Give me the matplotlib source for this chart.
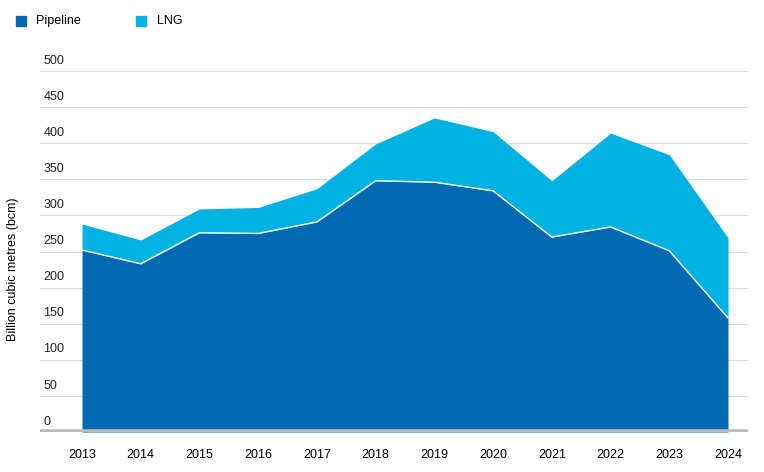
import numpy as np
import matplotlib.pyplot as plt

years = [2013, 2014, 2015, 2016, 2017, 2018, 2019, 2020, 2021, 2022, 2023, 2024]
pipeline = [252, 233, 276, 275, 291, 348, 346, 334, 270, 284, 251, 158]
total = [288, 266, 309, 311, 337, 399, 435, 416, 348, 414, 384, 269]
lng = [t - p for t, p in zip(total, pipeline)]
yticks = [0, 50, 100, 150, 200, 250, 300, 350, 400, 450, 500]

c_pipe = "#0069b4"
c_lng = "#00b1e3"

plt.rcParams["font.family"] = ["Liberation Sans", "DejaVu Sans"]
fig = plt.figure(figsize=(7.64, 4.72), dpi=100)
ax = fig.add_axes([40 / 764, 1 - 432 / 472, 708 / 764, 361 / 472])

x = np.array(years)
ax.fill_between(x, 0, pipeline, color=c_pipe, lw=0, zorder=2)
ax.fill_between(x, pipeline, total, color=c_lng, lw=0, zorder=2)
ax.plot(x, pipeline, color="white", lw=1, zorder=3)

ax.set_xlim(2013 - 42 / 58.7, 2024 + 20 / 58.7)
ax.set_ylim(0, 500)
for v in yticks:
    ax.axhline(v, color="#dddddd", lw=0.8, zorder=1)
    ax.text(0.005, v + 6, str(v), transform=ax.get_yaxis_transform(),
            fontsize=9, va="bottom", ha="left", color="#222222")
ax.axhline(0, color="#bbbbbb", lw=4, zorder=4)
ax.set_yticks([])
ax.set_xticks(years)
ax.set_xticklabels([str(y) for y in years], fontsize=9)
ax.tick_params(axis="x", length=0, pad=12)
for s in ax.spines.values():
    s.set_visible(False)
ax.set_ylabel("Billion cubic metres (bcm)", fontsize=9)
ax.yaxis.set_label_coords(-0.03, 0.45)

fig.patches.append(plt.Rectangle((16 / 764, 1 - 26 / 472), 10 / 764, 10 / 472,
                                 transform=fig.transFigure, color=c_pipe))
fig.text(36 / 764, 1 - 21 / 472, "Pipeline", fontsize=9, va="center")
fig.patches.append(plt.Rectangle((136 / 764, 1 - 26 / 472), 10 / 764, 10 / 472,
                                 transform=fig.transFigure, color=c_lng))
fig.text(157 / 764, 1 - 21 / 472, "LNG", fontsize=9, va="center")

fig.savefig("out.png", dpi=100)
